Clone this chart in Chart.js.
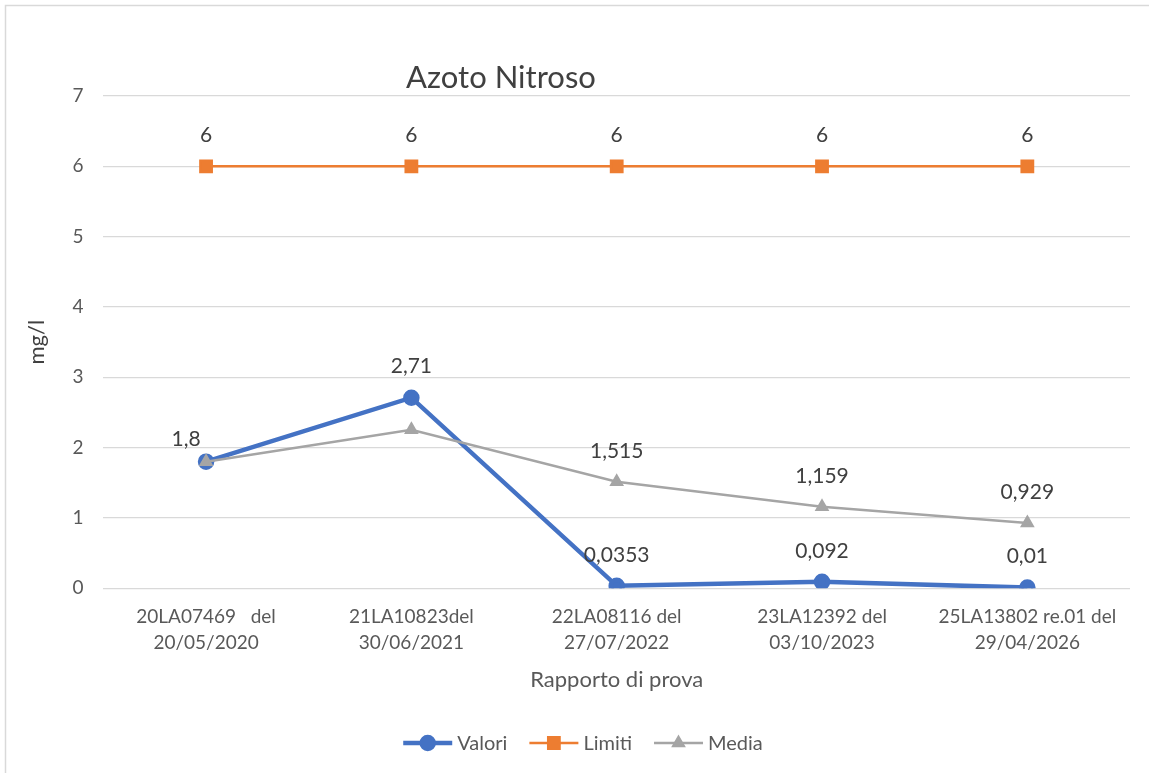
<!DOCTYPE html>
<html>
<head>
<meta charset="utf-8">
<title>Azoto Nitroso</title>
<script src="https://cdn.jsdelivr.net/npm/chart.js@4/dist/chart.umd.min.js"></script>
<style>
  html, body { margin: 0; padding: 0; background: #fff; }
  #wrap { position: relative; width: 1149px; height: 773px; }
</style>
</head>
<body>
<div id="wrap"><canvas id="chart" width="1149" height="773"></canvas></div>
<script>
// report numbers and dates (two lines per tick)
var rapporti = [
  ['20LA07469   del', '20/05/2020'],
  ['21LA10823del', '30/06/2021'],
  ['22LA08116 del', '27/07/2022'],
  ['23LA12392 del', '03/10/2023'],
  ['25LA13802 re.01 del', '29/04/2026']
];
var valori = [1.8, 2.71, 0.0353, 0.092, 0.01];
var limiti = [6, 6, 6, 6, 6];
var media = [1.8, 2.255, 1.515, 1.159, 0.929];
// which points get a value label
var valoriLabel = [true, true, true, true, true];
var limitiLabel = [true, true, true, true, true];
var mediaLabel = [false, false, true, true, true];
var yTicks = [0, 1, 2, 3, 4, 5, 6, 7];

var FONT = 'Lato, "Open Sans", sans-serif';
var BLU = '#4472C4', ARANCIO = '#ED7D31', GRIGIO = '#A5A5A5';

function fmt(v) {
  return String(v).replace('.', ',');
}

// value labels above the points
var etichette = {
  id: 'etichette',
  afterDatasetsDraw: function (chart) {
    var ctx = chart.ctx;
    ctx.save();
    ctx.font = '21px ' + FONT;
    ctx.fillStyle = '#404040';
    ctx.textAlign = 'center';
    ctx.textBaseline = 'middle';
    chart.data.datasets.forEach(function (ds, di) {
      var meta = chart.getDatasetMeta(di);
      meta.data.forEach(function (pt, i) {
        if (!ds.showLabel[i]) return;
        var dx = 0, dy = -31;
        // first label sits a bit to the left so it does not hit the lines
        if (di === 0 && i === 0) { dx = -20; dy = -22; }
        ctx.fillText(fmt(ds.data[i]), pt.x + dx, pt.y + dy);
      });
    });
    ctx.restore();
  }
};

// frame, title and legend (line + marker like the spreadsheet legend)
var cornice = {
  id: 'cornice',
  afterDraw: function (chart) {
    var ctx = chart.ctx;
    ctx.save();
    ctx.strokeStyle = '#d9d9d9';
    ctx.lineWidth = 1.5;
    ctx.beginPath();
    ctx.moveTo(5.5, 773);
    ctx.lineTo(5.5, 5.5);
    ctx.lineTo(1149, 5.5);
    ctx.stroke();

    ctx.font = '31px ' + FONT;
    ctx.fillStyle = '#404040';
    ctx.textAlign = 'center';
    ctx.textBaseline = 'middle';
    ctx.fillText('Azoto Nitroso', 501, 78);

    ctx.font = '20px ' + FONT;
    ctx.textAlign = 'left';
    var lineLen = 49, gap = 5, spacing = 22;
    var items = chart.data.datasets.map(function (ds) {
      return { ds: ds, w: lineLen + gap + ctx.measureText(ds.label).width };
    });
    var total = items.reduce(function (s, it) { return s + it.w; }, 0) + spacing * (items.length - 1);
    var x = 583 - total / 2, y = 743;
    items.forEach(function (it) {
      var ds = it.ds;
      ctx.strokeStyle = ds.borderColor;
      ctx.lineWidth = ds.borderWidth;
      ctx.beginPath();
      ctx.moveTo(x, y);
      ctx.lineTo(x + lineLen, y);
      ctx.stroke();
      Chart.helpers.drawPoint(ctx, {
        pointStyle: ds.pointStyle,
        radius: ds.pointRadius,
        borderWidth: 1
      }, x + lineLen / 2, y);
      ctx.fillStyle = ds.pointBackgroundColor;
      ctx.fill();
      ctx.fillStyle = '#595959';
      ctx.fillText(ds.label, x + lineLen + gap, y + 1);
      x += it.w + spacing;
    });
    ctx.restore();
  }
};

new Chart(document.getElementById('chart'), {
  type: 'line',
  data: {
    labels: rapporti,
    datasets: [{
      label: 'Valori',
      data: valori,
      showLabel: valoriLabel,
      borderColor: BLU,
      backgroundColor: BLU,
      pointBackgroundColor: BLU,
      pointBorderColor: BLU,
      borderWidth: 4.5,
      pointStyle: 'circle',
      pointRadius: 6,
      order: 3
    }, {
      label: 'Limiti',
      data: limiti,
      showLabel: limitiLabel,
      borderColor: ARANCIO,
      backgroundColor: ARANCIO,
      pointBackgroundColor: ARANCIO,
      pointBorderColor: ARANCIO,
      borderWidth: 2.5,
      pointStyle: 'rect',
      pointRadius: 8,
      order: 2
    }, {
      label: 'Media',
      data: media,
      showLabel: mediaLabel,
      borderColor: GRIGIO,
      backgroundColor: GRIGIO,
      pointBackgroundColor: GRIGIO,
      pointBorderColor: GRIGIO,
      borderWidth: 2.5,
      pointStyle: 'triangle',
      pointRadius: 6,
      order: 1
    }]
  },
  options: {
    responsive: false,
    animation: false,
    events: [],
    layout: { padding: { top: 96, right: 19, left: 0, bottom: 74.7 } },
    plugins: {
      legend: { display: false },
      title: { display: false },
      tooltip: { enabled: false }
    },
    scales: {
      x: {
        offset: true,
        grid: { display: false, drawTicks: false },
        border: { display: false },
        ticks: {
          padding: 16,
          color: '#595959',
          font: { family: FONT, size: 19, lineHeight: 1.37 },
          maxRotation: 0,
          autoSkip: false
        },
        title: {
          display: true,
          text: 'Rapporto di prova',
          color: '#595959',
          font: { family: FONT, size: 22 },
          padding: { top: 4, bottom: 5 }
        },
        afterFit: function (scale) { scale.height = 110; }
      },
      y: {
        min: yTicks[0],
        max: yTicks[yTicks.length - 1],
        afterBuildTicks: function (scale) {
          scale.ticks = yTicks.map(function (v) { return { value: v }; });
        },
        grid: { color: '#d9d9d9', lineWidth: 1.3, drawTicks: false },
        border: { display: false },
        ticks: {
          padding: 20,
          color: '#595959',
          font: { family: FONT, size: 19 }
        },
        title: {
          display: true,
          text: 'mg/l',
          color: '#404040',
          font: { family: FONT, size: 22 },
          padding: { top: 24, bottom: 0 }
        },
        afterFit: function (scale) { scale.width = 103.4; }
      }
    }
  },
  plugins: [etichette, cornice]
});
</script>
</body>
</html>
